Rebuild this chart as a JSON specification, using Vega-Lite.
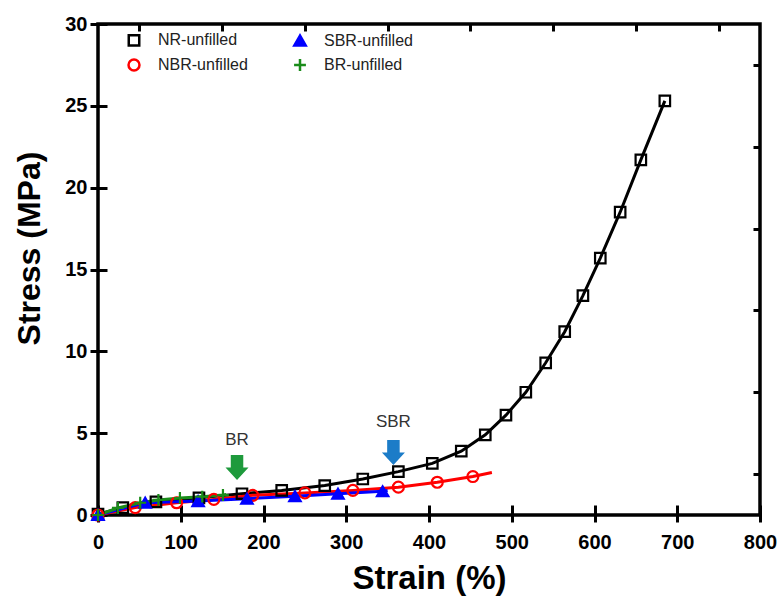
{
  "$schema": "https://vega.github.io/schema/vega-lite/v6.json",
  "autosize": "none",
  "width": 662,
  "height": 491,
  "padding": {"left": 98, "top": 24, "right": 21, "bottom": 82},
  "background": "white",
  "config": {
    "view": {"stroke": "black", "strokeWidth": 3.5},
    "font": "Liberation Sans",
    "axis": {"grid": false, "domain": false, "tickColor": "black", "labelColor": "black", "titleColor": "black", "labelFont": "Liberation Sans", "titleFont": "Liberation Sans"},
    "legend": {"title": null, "orient": "none", "legendX": 28, "legendY": 8, "columns": 2,
               "labelFont": "Liberation Sans", "labelFontSize": 16, "labelColor": "#222",
               "symbolSize": 100, "symbolStrokeWidth": 2.5, "labelOffset": 16, "columnPadding": 41, "rowPadding": 3}
  },
  "datasets": {
    "curves": [
      {"series": "NR-unfilled", "strain": 0, "stress": 0.05, "marker": true},
      {"series": "NR-unfilled", "strain": 30, "stress": 0.45, "marker": true},
      {"series": "NR-unfilled", "strain": 70, "stress": 0.8, "marker": true},
      {"series": "NR-unfilled", "strain": 122, "stress": 1.05, "marker": true},
      {"series": "NR-unfilled", "strain": 174, "stress": 1.3, "marker": true},
      {"series": "NR-unfilled", "strain": 222, "stress": 1.5, "marker": true},
      {"series": "NR-unfilled", "strain": 274, "stress": 1.8, "marker": true},
      {"series": "NR-unfilled", "strain": 320, "stress": 2.2, "marker": true},
      {"series": "NR-unfilled", "strain": 363, "stress": 2.65, "marker": true},
      {"series": "NR-unfilled", "strain": 404, "stress": 3.15, "marker": true},
      {"series": "NR-unfilled", "strain": 439, "stress": 3.9, "marker": true},
      {"series": "NR-unfilled", "strain": 468, "stress": 4.9, "marker": true},
      {"series": "NR-unfilled", "strain": 493, "stress": 6.1, "marker": true},
      {"series": "NR-unfilled", "strain": 517, "stress": 7.5, "marker": true},
      {"series": "NR-unfilled", "strain": 541, "stress": 9.3, "marker": true},
      {"series": "NR-unfilled", "strain": 564, "stress": 11.2, "marker": true},
      {"series": "NR-unfilled", "strain": 586, "stress": 13.4, "marker": true},
      {"series": "NR-unfilled", "strain": 607, "stress": 15.7, "marker": true},
      {"series": "NR-unfilled", "strain": 631, "stress": 18.5, "marker": true},
      {"series": "NR-unfilled", "strain": 656, "stress": 21.7, "marker": true},
      {"series": "NR-unfilled", "strain": 685, "stress": 25.3, "marker": true},
      {"series": "NBR-unfilled", "strain": 0, "stress": 0.0, "marker": true},
      {"series": "NBR-unfilled", "strain": 45, "stress": 0.45, "marker": true},
      {"series": "NBR-unfilled", "strain": 95, "stress": 0.75, "marker": true},
      {"series": "NBR-unfilled", "strain": 140, "stress": 0.95, "marker": true},
      {"series": "NBR-unfilled", "strain": 187, "stress": 1.2, "marker": true},
      {"series": "NBR-unfilled", "strain": 250, "stress": 1.35, "marker": true},
      {"series": "NBR-unfilled", "strain": 308, "stress": 1.5, "marker": true},
      {"series": "NBR-unfilled", "strain": 363, "stress": 1.7, "marker": true},
      {"series": "NBR-unfilled", "strain": 410, "stress": 2.0, "marker": true},
      {"series": "NBR-unfilled", "strain": 453, "stress": 2.35, "marker": true},
      {"series": "NBR-unfilled", "strain": 476, "stress": 2.6, "marker": false},
      {"series": "SBR-unfilled", "strain": 0, "stress": 0.0, "marker": true},
      {"series": "SBR-unfilled", "strain": 57, "stress": 0.75, "marker": true},
      {"series": "SBR-unfilled", "strain": 121, "stress": 0.85, "marker": true},
      {"series": "SBR-unfilled", "strain": 180, "stress": 1.0, "marker": true},
      {"series": "SBR-unfilled", "strain": 238, "stress": 1.15, "marker": true},
      {"series": "SBR-unfilled", "strain": 290, "stress": 1.3, "marker": true},
      {"series": "SBR-unfilled", "strain": 344, "stress": 1.45, "marker": true},
      {"series": "SBR-unfilled", "strain": 350, "stress": 1.5, "marker": false},
      {"series": "BR-unfilled", "strain": 0, "stress": 0.0, "marker": true},
      {"series": "BR-unfilled", "strain": 24, "stress": 0.43, "marker": true},
      {"series": "BR-unfilled", "strain": 51, "stress": 0.75, "marker": true},
      {"series": "BR-unfilled", "strain": 73, "stress": 0.92, "marker": true},
      {"series": "BR-unfilled", "strain": 99, "stress": 1.04, "marker": true},
      {"series": "BR-unfilled", "strain": 126, "stress": 1.12, "marker": true},
      {"series": "BR-unfilled", "strain": 151, "stress": 1.22, "marker": true},
      {"series": "BR-unfilled", "strain": 155, "stress": 1.25, "marker": false}
    ],
    "notes": [
      {"label": "BR", "strain": 168, "arrow": 2.9, "text": 4.6},
      {"label": "SBR", "strain": 357, "arrow": 3.82, "text": 5.7}
    ]
  },
  "resolve": {"axis": {"x": "independent", "y": "independent"}},
  "layer": [
    {
      "data": {"name": "curves"},
      "mark": {"type": "line", "strokeWidth": 3},
      "encoding": {
        "x": {"field": "strain", "type": "quantitative", "scale": {"domain": [0, 800], "nice": false},
              "axis": {"values": [0,100,200,300,400,500,600,700,800], "offset": -10, "tickSize": 17, "tickWidth": 3,
                       "labelFontSize": 20, "labelFontWeight": "bold", "labelPadding": 10, "labelFlush": false,
                       "title": "Strain (%)", "titleFontSize": 33, "titleFontWeight": "bold", "titlePadding": 10}},
        "y": {"field": "stress", "type": "quantitative", "scale": {"domain": [0, 30], "nice": false},
              "axis": {"values": [0,5,10,15,20,25,30], "offset": -9, "tickSize": 17, "tickWidth": 3,
                       "labelFontSize": 20, "labelFontWeight": "bold", "labelPadding": 3, "labelFlush": false,
                       "title": "Stress (MPa)", "titleFontSize": 32, "titleFontWeight": "bold", "titlePadding": 18, "titleY": 224}},
        "color": {"field": "series", "type": "nominal",
                  "scale": {"domain": ["NR-unfilled", "NBR-unfilled", "SBR-unfilled", "BR-unfilled"], "range": ["#000000", "#ff0000", "#0000ff", "#1a8c1a"]}},
        "detail": {"field": "series"},
        "order": {"field": "strain"}
      }
    },
    {
      "data": {"name": "curves"},
      "transform": [{"filter": "datum.marker"}],
      "mark": {"type": "point", "filled": false, "strokeWidth": 2.2, "opacity": 1},
      "encoding": {
        "x": {"field": "strain", "type": "quantitative",
              "axis": {"values": [50,150,250,350,450,550,650,750], "offset": -7, "tickSize": 7, "tickWidth": 3, "labels": false, "title": null}},
        "y": {"field": "stress", "type": "quantitative",
              "axis": {"values": [2.5,7.5,12.5,17.5,22.5,27.5], "offset": -7, "tickSize": 7, "tickWidth": 3, "labels": false, "title": null}},
        "color": {"field": "series", "type": "nominal",
                  "legend": {"title": null}},
        "shape": {"field": "series", "type": "nominal",
                  "scale": {"domain": ["NR-unfilled", "NBR-unfilled", "SBR-unfilled", "BR-unfilled"], "range": ["square", "circle", "triangle-up", "M-1,0H1M0,-1V1"]}},
        "fill": {"field": "series", "type": "nominal",
                 "scale": {"domain": ["NR-unfilled", "NBR-unfilled", "SBR-unfilled", "BR-unfilled"], "range": ["transparent", "transparent", "#0000ff", "transparent"]}},
        "size": {"field": "series", "type": "nominal", "legend": null,
                 "scale": {"domain": ["NR-unfilled", "NBR-unfilled", "SBR-unfilled", "BR-unfilled"], "range": [110, 140, 150, 220]}}
      }
    },
    {
      "data": {"name": "notes"},
      "transform": [{"filter": "datum.label == 'BR'"}],
      "mark": {"type": "point", "filled": true, "size": 625, "opacity": 1, "color": "#1e9a3c", "shape": "M-0.5,-1H0.5V0H0.92L0,1L-0.92,0H-0.5Z"},
      "encoding": {
        "x": {"field": "strain", "type": "quantitative", "axis": null},
        "y": {"field": "arrow", "type": "quantitative", "axis": null}
      }
    },
    {
      "data": {"name": "notes"},
      "transform": [{"filter": "datum.label == 'SBR'"}],
      "mark": {"type": "point", "filled": true, "size": 625, "opacity": 1, "color": "#1c7cc8", "shape": "M-0.5,-1H0.5V0H0.92L0,1L-0.92,0H-0.5Z"},
      "encoding": {
        "x": {"field": "strain", "type": "quantitative", "axis": null},
        "y": {"field": "arrow", "type": "quantitative", "axis": null}
      }
    },
    {
      "data": {"name": "notes"},
      "mark": {"type": "text", "font": "Liberation Sans", "fontSize": 17, "color": "#333"},
      "encoding": {
        "x": {"field": "strain", "type": "quantitative", "axis": null},
        "y": {"field": "text", "type": "quantitative", "axis": null},
        "text": {"field": "label"}
      }
    }
  ]
}
